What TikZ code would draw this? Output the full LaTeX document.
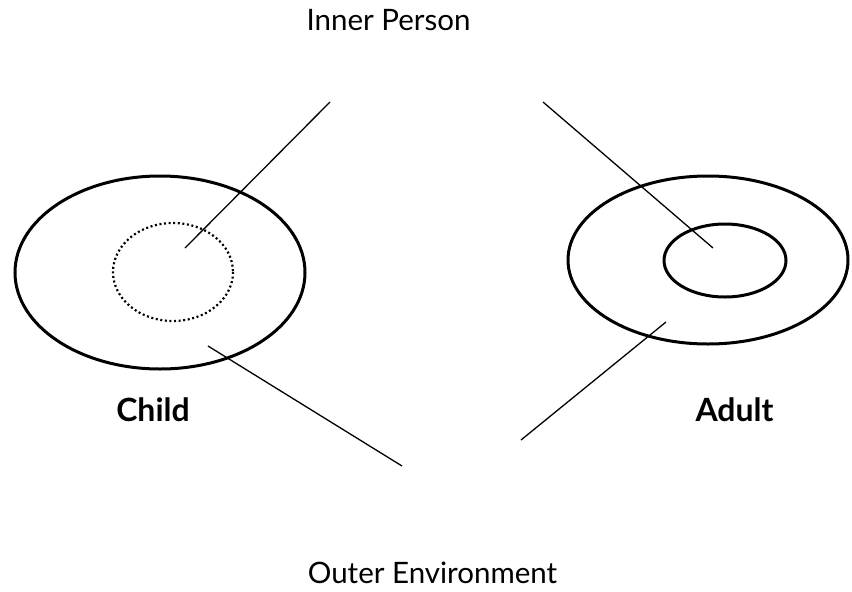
\documentclass[tikz,border=0pt]{standalone}
\usepackage{fontspec}
\setmainfont{Lato}
\begin{document}
\begin{tikzpicture}[x=1pt,y=-1pt,
  ring/.style={line width=3pt},
  dotring/.style={line width=2.2pt, dash pattern=on 2pt off 2.6pt},
  leader/.style={line width=1.3pt},
  caption/.style={anchor=base, inner sep=0pt, font=\fontsize{29.5}{32}\selectfont},
  tag/.style={anchor=base, inner sep=0pt, font=\fontsize{32}{34}\selectfont\bfseries}]
\useasboundingbox (0,0) rectangle (852,592);
% Child
\coordinate (childc) at (160,272.5);
\coordinate (childin) at (173,272);
\draw[ring] (childc) ellipse [x radius=145, y radius=96.5];
\draw[dotring] (childin) ellipse [x radius=60, y radius=49];
% Adult
\coordinate (adultc) at (708,260);
\coordinate (adultin) at (725,260.5);
\draw[ring] (adultc) ellipse [x radius=140, y radius=84];
\draw[ring] (adultin) ellipse [x radius=61, y radius=36.5];
% leader lines
\coordinate (ipL) at (330,102);
\coordinate (ipLend) at (185,248);
\coordinate (ipR) at (543,102);
\coordinate (ipRend) at (713,248);
\coordinate (oeL) at (402,466);
\coordinate (oeLend) at (208,346);
\coordinate (oeR) at (521,440);
\coordinate (oeRend) at (666,322);
\draw[leader] (ipL) -- (ipLend);
\draw[leader] (ipR) -- (ipRend);
\draw[leader] (oeLend) -- (oeL);
\draw[leader] (oeR) -- (oeRend);
% labels
\node[caption] (inner) at (388.5,30) {Inner Person};
\node[caption] (outer) at (432.5,583) {Outer Environment};
\node[tag] (child) at (153,421) {Child};
\node[tag] (adult) at (734.5,421) {Adult};
\end{tikzpicture}
\end{document}
